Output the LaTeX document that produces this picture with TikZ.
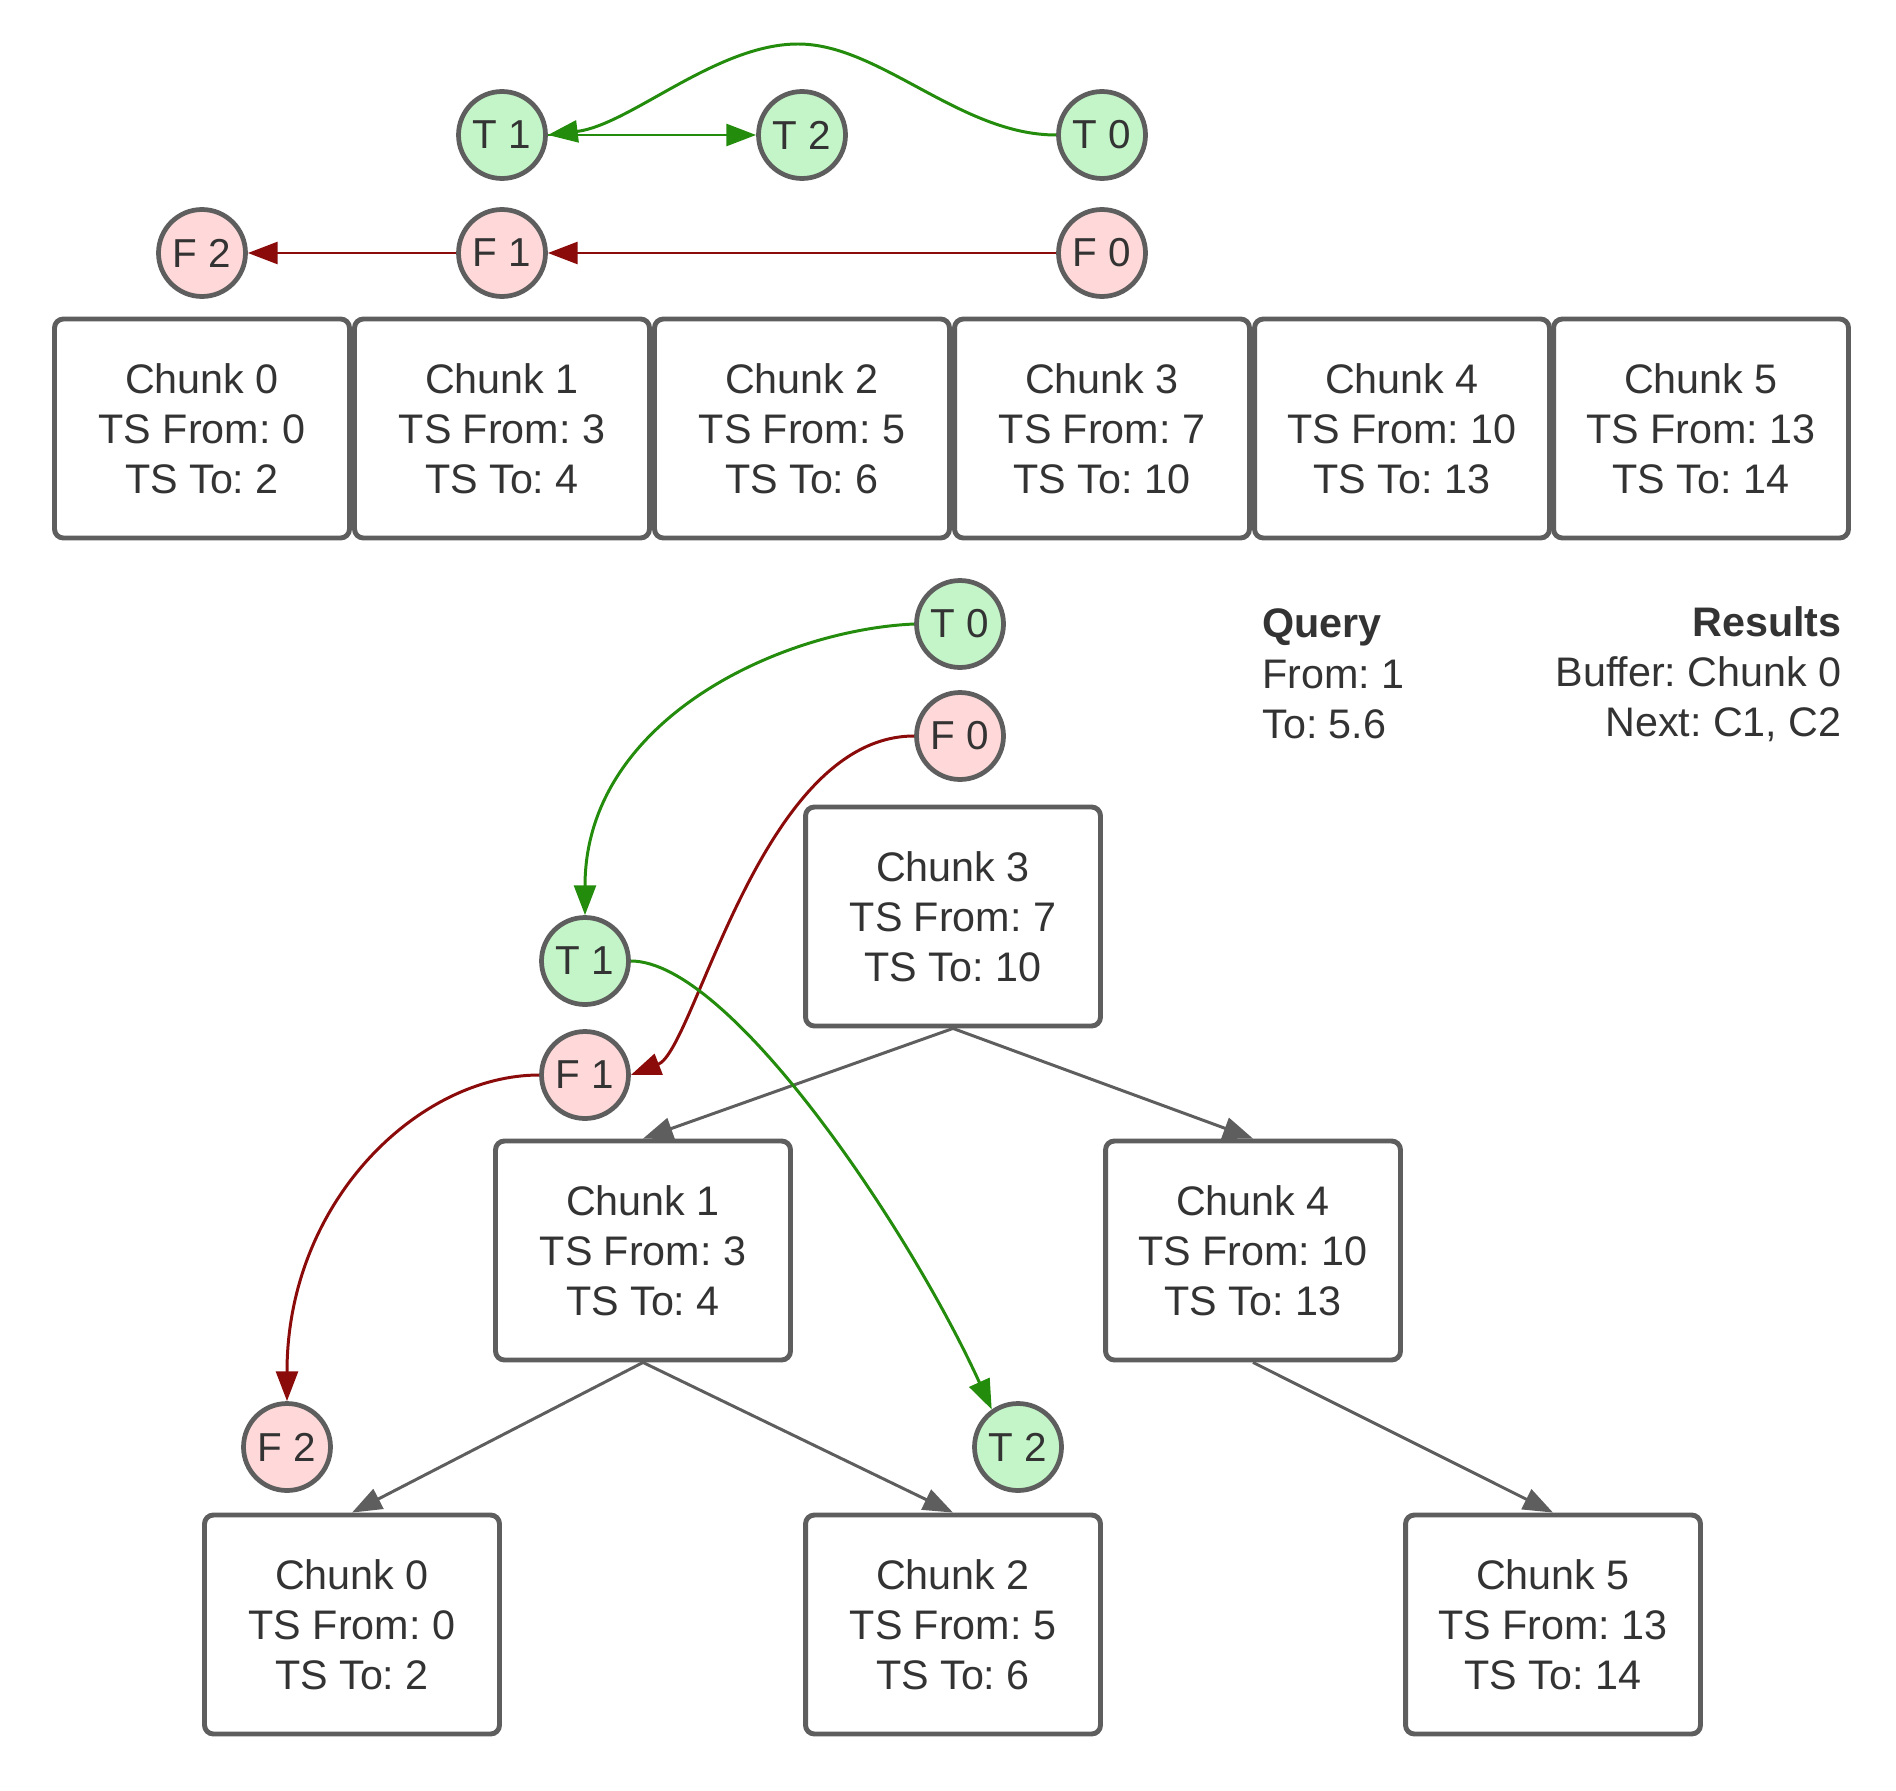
\documentclass[tikz,border=0pt]{standalone}
\usepackage{fontspec}
\setmainfont{Liberation Sans}
\frenchspacing
\usetikzlibrary{arrows.meta}
\definecolor{edgegrey}{RGB}{94,94,94}
\definecolor{txt}{RGB}{51,51,51}
\definecolor{tfill}{RGB}{196,245,200}
\definecolor{ffill}{RGB}{255,217,217}
\definecolor{garrowc}{RGB}{36,140,12}
\definecolor{rarrowc}{RGB}{139,10,10}
\begin{document}
\begin{tikzpicture}[x=0.02cm,y=-0.02cm,
  chunk/.style={draw=edgegrey,line width=2.8pt,rounded corners=5pt,fill=white,
    minimum width=5.9cm,minimum height=4.38cm,align=center,text=txt,
    font=\fontsize{23.5}{28.6}\selectfont,inner sep=0pt},
  tnode/.style={circle,draw=edgegrey,line width=2.7pt,fill=tfill,
    minimum size=1.74cm,inner sep=0pt,text=txt,font=\fontsize{23}{27}\selectfont},
  fnode/.style={tnode,fill=ffill},
  gline/.style={draw=garrowc,line width=1.7pt,-{Triangle[length=17pt,width=12.5pt]}},
  rline/.style={draw=rarrowc,line width=1.7pt,-{Triangle[length=17pt,width=12.5pt]}},
  tline/.style={draw=edgegrey,line width=1.7pt,-{Triangle[length=17pt,width=12.5pt]}},
  info/.style={text=txt,font=\fontsize{23.5}{28.6}\selectfont,inner sep=0pt}
]
\useasboundingbox (0,0) rectangle (1896,1791);

% ---------- top: flat array ----------
\node[chunk] (a0) at (202,428.5) {Chunk 0\\TS From: 0\\TS To: 2};
\node[chunk] (a1) at (502,428.5) {Chunk 1\\TS From: 3\\TS To: 4};
\node[chunk] (a2) at (802,428.5) {Chunk 2\\TS From: 5\\TS To: 6};
\node[chunk] (a3) at (1102,428.5) {Chunk 3\\TS From: 7\\TS To: 10};
\node[chunk] (a4) at (1402,428.5) {Chunk 4\\TS From: 10\\TS To: 13};
\node[chunk] (a5) at (1701,428.5) {Chunk 5\\TS From: 13\\TS To: 14};

\node[tnode] (at1) at (502,135) {T 1};
\node[tnode] (at2) at (802,135) {T 2};
\node[tnode] (at0) at (1102,135) {T 0};
\node[fnode] (af2) at (202,253) {F 2};
\node[fnode] (af1) at (502,253) {F 1};
\node[fnode] (af0) at (1102,253) {F 0};

\coordinate (peak) at (798,44);
\draw[gline] (at0.west) .. controls (960,135) and (880,44) .. (peak)
  .. controls (716,44) and (630,125) .. (at1.east);
\draw[gline] (at1.east) -- (at2.west);
\draw[rline] (af0.west) -- (af1.east);
\draw[rline] (af1.west) -- (af2.east);

% ---------- bottom: tree ----------
\node[chunk] (b3) at (953,916.5) {Chunk 3\\TS From: 7\\TS To: 10};
\node[chunk] (b1) at (643,1250.5) {Chunk 1\\TS From: 3\\TS To: 4};
\node[chunk] (b4) at (1253,1250.5) {Chunk 4\\TS From: 10\\TS To: 13};
\node[chunk] (b0) at (352,1624.5) {Chunk 0\\TS From: 0\\TS To: 2};
\node[chunk] (b2) at (953,1624.5) {Chunk 2\\TS From: 5\\TS To: 6};
\node[chunk] (b5) at (1553,1624.5) {Chunk 5\\TS From: 13\\TS To: 14};

\draw[tline] (b3.south) -- (b1.north);
\draw[tline] (b3.south) -- (b4.north);
\draw[tline] (b1.south) -- (b0.north);
\draw[tline] (b1.south) -- (b2.north);
\draw[tline] (b4.south) -- (b5.north);

\node[tnode] (bt0) at (960,624) {T 0};
\node[fnode] (bf0) at (960,736) {F 0};
\node[tnode] (bt1) at (585,961) {T 1};
\node[fnode] (bf1) at (585,1075) {F 1};
\node[fnode] (bf2) at (287,1447) {F 2};
\node[tnode] (bt2) at (1018,1447) {T 2};

\draw[gline] (bt0.west) .. controls (780,630) and (585,720) .. (bt1.north);
\draw[rline] (bf0.west) .. controls (760,736) and (695,1050) .. (bf1.east);
\draw[gline] (bt1.east) .. controls (730,961) and (910,1230) .. (bt2.125);
\draw[rline] (bf1.west) .. controls (420,1075) and (287,1200) .. (bf2.north);

% ---------- query / results ----------
\node[info,anchor=west,align=left] (query) at (1262,674)
  {{\bfseries Query}\\From: 1\\To: 5.6};
\node[info,anchor=east,align=right] (results) at (1842,674)
  {{\bfseries Results}\\Buffer: Chunk 0\\Next: C1, C2};
\end{tikzpicture}
\end{document}
